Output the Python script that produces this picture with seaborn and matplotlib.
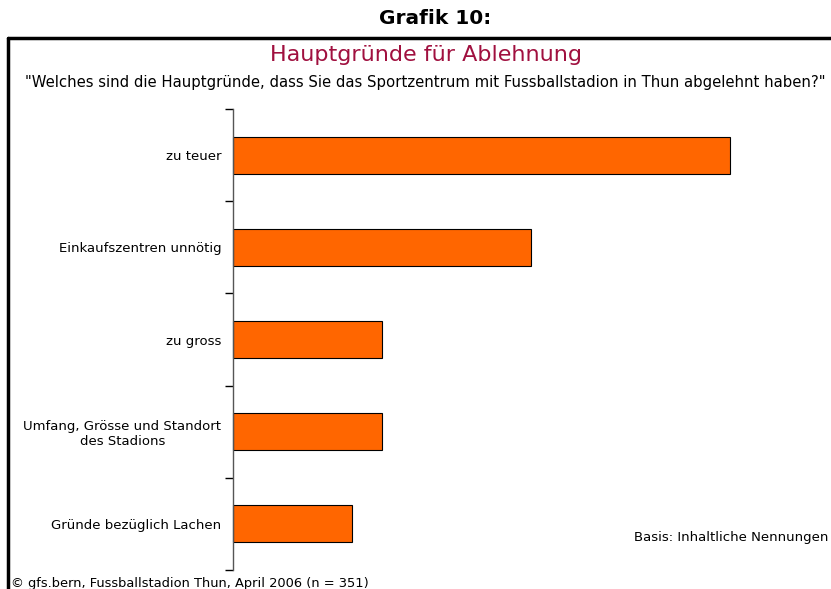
import matplotlib
matplotlib.use("Agg")
import matplotlib.pyplot as plt
import seaborn as sns
import pandas as pd
from matplotlib.lines import Line2D

categories = ["zu teuer", "Einkaufszentren unnötig", "zu gross",
              "Umfang, Grösse und Standort\ndes Stadions", "Gründe bezüglich Lachen"]
values = [50, 30, 15, 15, 12]

sns.set_theme(style="white")
plt.rcParams['font.family'] = ['DejaVu Sans']
plt.rcParams['text.color'] = 'black'

df = pd.DataFrame({"cat": categories, "val": values})

W, H = 831, 589
fig = plt.figure(figsize=(W/100, H/100), dpi=100)
ax = fig.add_axes([233/W, 1-570/H, (730-233)/W, (570-109)/H])
sns.barplot(data=df, x="val", y="cat", orient="h", color="#FF6600",
            saturation=1, width=0.4, edgecolor="black", linewidth=0.8, ax=ax)
for p in ax.patches:
    p.set_clip_on(False)
ax.set_xlim(0, 50)
ax.set_ylim(4.5, -0.5)
ax.set_xlabel("")
ax.set_ylabel("")
ax.set_xticks([])
for s in ["top", "right", "bottom"]:
    ax.spines[s].set_visible(False)
ax.spines["left"].set_color("#555555")
ax.spines["left"].set_linewidth(1)
ax.set_yticks([i - 0.5 for i in range(6)], minor=True)
ax.tick_params(axis="y", which="minor", length=6, width=1, color="black", direction="out", left=True)
ax.tick_params(axis="y", which="major", length=0, pad=8.5, labelsize=9.5, labelcolor="black")
for lab in ax.get_yticklabels():
    lab.set_horizontalalignment("right")
    lab.set_multialignment("center")

fig.text(435/W, 1-18/H, "Grafik 10:", ha="center", va="center", fontsize=14.5, fontweight="bold", color="black")
fig.text(426/W, 1-55/H, "Hauptgründe für Ablehnung", ha="center", va="center", fontsize=16, color="#A0103F")
fig.text(425/W, 1-83/H, "\"Welches sind die Hauptgründe, dass Sie das Sportzentrum mit Fussballstadion in Thun abgelehnt haben?\"",
         ha="center", va="center", fontsize=10.7, color="black")
fig.text(828/W, 1-537/H, "Basis: Inhaltliche Nennungen", ha="right", va="center", fontsize=9.5, color="black")
fig.text(11/W, 1-584/H, "© gfs.bern, Fussballstadion Thun, April 2006 (n = 351)", ha="left", va="center", fontsize=9.4, color="black")

fig.add_artist(Line2D([8/W, 1.0], [1-38/H, 1-38/H], transform=fig.transFigure, color="black", lw=2.5))
fig.add_artist(Line2D([8/W, 8/W], [1-38/H, 0], transform=fig.transFigure, color="black", lw=2.5))

fig.savefig("out.png", dpi=100)
